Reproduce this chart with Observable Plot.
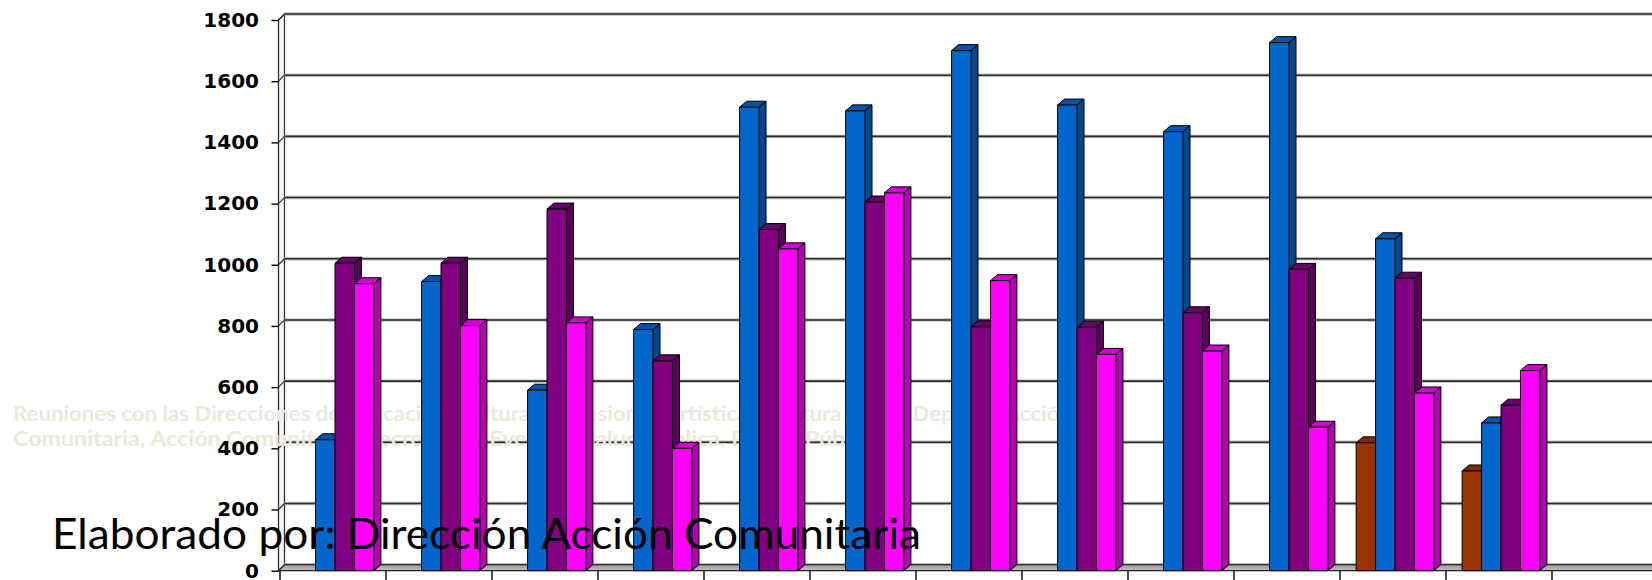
<!DOCTYPE html>
<html>
<head>
<meta charset="utf-8">
<script src="https://cdn.jsdelivr.net/npm/d3@7"></script>
<script src="https://cdn.jsdelivr.net/npm/@observablehq/plot@0.6"></script>
<style>
html, body { margin: 0; padding: 0; background: #ffffff; overflow: hidden; }
#chart svg { display: block; }
</style>
</head>
<body>
<div id="chart"></div>
<script>
// ---------------- data ----------------
const categories = ["1", "2", "3", "4", "5", "6", "7", "8", "9", "10", "11", "12", "13"];
const seriesNames = ["Serie 1", "Serie 2", "Serie 3", "Serie 4"];
const seriesColors = ["#993300", "#0066CC", "#800080", "#FF00FF"];
const serie1 = [null, null, null, null, null, null, null, null, null, null, 418, 326, null];
const serie2 = [428, 945, 590, 788, 1515, 1503, 1700, 1522, 1435, 1726, 1085, 483, null];
const serie3 = [1005, 1005, 1182, 686, 1115, 1205, 797, 796, 843, 985, 956, 541, null];
const serie4 = [938, 801, 810, 400, 1052, 1235, 948, 707, 718, 469, 581, 654, null];
const yTicks = [0, 200, 400, 600, 800, 1000, 1200, 1400, 1600, 1800];
const watermarkLines = [
  "Reuniones con las Direcciones de Educación, Cultura, Expresiones Artísticas, Cultura Física, Deporte, Acción",
  "Comunitaria, Acción Comunitaria, Recreación, Eventos, Salud Pública, Policía Pública"
];
const captionText = "Elaborado por: Dirección Acción Comunitaria";

// table built from the arrays
const allSeries = [serie1, serie2, serie3, serie4];
const table = [];
categories.forEach((c, i) => {
  allSeries.forEach((arr, s) => {
    if (arr[i] != null) table.push({cat: c, series: seriesNames[s], value: arr[i]});
  });
});

// ---------------- layout ----------------
const W = 1652, H = 580;
const LEFT = 278.5;
const STEP = 106.25;
const WALL = 6;          // depth of walls / gridline offset
const DX = 7, DY = 6;    // depth of the bars

// walls, floor, gridlines, category ticks
function chrome(index, scales, values, dimensions) {
  const g = d3.create("svg:g");
  const y0 = scales.y(0), yTop = scales.y(1800);
  const xL = dimensions.marginLeft, xR = dimensions.width + 30;
  const defs = g.append("defs");
  const lg = defs.append("linearGradient").attr("id", "floorGrad").attr("x1", 0).attr("y1", 0).attr("x2", 0).attr("y2", 1);
  lg.append("stop").attr("offset", "0%").attr("stop-color", "#8c8c8c");
  lg.append("stop").attr("offset", "100%").attr("stop-color", "#c8c8c8");
  // floor
  g.append("path")
    .attr("d", `M${xL},${y0}L${xL + WALL},${y0 - WALL}L${xR},${y0 - WALL}L${xR},${y0}Z`)
    .attr("fill", "url(#floorGrad)").attr("stroke", "none");
  // side wall
  g.append("path")
    .attr("d", `M${xL},${y0}L${xL},${yTop}L${xL + WALL},${yTop - WALL}L${xL + WALL},${y0 - WALL}Z`)
    .attr("fill", "#f4f4f4").attr("stroke", "#333").attr("stroke-width", 1.3);
  // gridlines on back wall + side wall diagonals
  for (const i of index) {
    const y = values.y[i];
    g.append("line").attr("x1", xL + WALL).attr("x2", xR).attr("y1", y - WALL).attr("y2", y - WALL)
      .attr("stroke", "#bdbdbd").attr("stroke-width", 3.4);
    g.append("line").attr("x1", xL + WALL).attr("x2", xR).attr("y1", y - WALL).attr("y2", y - WALL)
      .attr("stroke", "#2e2e2e").attr("stroke-width", 1.6);
    g.append("line").attr("x1", xL).attr("x2", xL + WALL).attr("y1", y).attr("y2", y - WALL)
      .attr("stroke", "#333").attr("stroke-width", 1.2);
  }
  // front floor edge
  g.append("line").attr("x1", xL).attr("x2", xR).attr("y1", y0).attr("y2", y0)
    .attr("stroke", "#222").attr("stroke-width", 1.3);
  // category boundary ticks
  const bw = scales.x.bandwidth();
  categories.forEach((c, k) => {
    const xs = [scales.x(c)];
    if (k === categories.length - 1) xs.push(scales.x(c) + bw);
    for (const x of xs) {
      g.append("line").attr("x1", x).attr("x2", x).attr("y1", y0).attr("y2", y0 + 11)
        .attr("stroke", "#000").attr("stroke-width", 1.4);
    }
  });
  return g.node();
}

// 3D columns
function bars3d(index, scales, values) {
  const g = d3.create("svg:g").attr("class", "bars3d");
  const bw = scales.x.bandwidth();
  const sub = d3.scaleBand().domain(seriesNames).range([bw * 0.152, bw * 0.152 + bw * 0.734]);
  const w = sub.bandwidth();
  for (const i of index) {
    const x0 = values.x[i] + sub(table[i].series);
    const yt = Math.min(values.y1[i], values.y2[i]);
    const yb = Math.max(values.y1[i], values.y2[i]);
    const c = d3.color(values.fill[i]);
    const top = c.darker(0.55).formatHex();
    const side = c.darker(1.0).formatHex();
    const b = g.append("g").attr("stroke", "#000").attr("stroke-width", 1).attr("stroke-linejoin", "round");
    b.append("path")
      .attr("d", `M${x0 + w},${yt}L${x0 + w + DX},${yt - DY}L${x0 + w + DX},${yb - DY}L${x0 + w},${yb}Z`)
      .attr("fill", side);
    b.append("path")
      .attr("d", `M${x0},${yt}L${x0 + DX},${yt - DY}L${x0 + w + DX},${yt - DY}L${x0 + w},${yt}Z`)
      .attr("fill", top);
    b.append("rect").attr("x", x0).attr("y", yt).attr("width", w).attr("height", yb - yt)
      .attr("fill", c.formatHex());
  }
  return g.node();
}

const plot = Plot.plot({
  width: W,
  height: H,
  marginLeft: LEFT,
  marginRight: 0,
  marginTop: 20,
  marginBottom: 9,
  x: {type: "band", domain: categories, range: [LEFT, LEFT + STEP * categories.length], padding: 0, axis: null},
  y: {domain: [0, 1800], range: [570.7, 20], axis: null},
  color: {domain: seriesNames, range: seriesColors},
  style: {background: "transparent"},
  marks: [
    Plot.ruleY(yTicks, {y: d => d, render: chrome}),
    Plot.barY(table, {x: "cat", y1: () => 0, y2: "value", fill: "series", render: bars3d}),
    Plot.axisY({
      ticks: yTicks,
      label: null,
      tickSize: 7,
      tickPadding: 13,
      tickFormat: d => String(d),
      fontSize: 20,
      fontWeight: "bold",
      fontFamily: "DejaVu Sans",
      fill: "#000",
      stroke: "#000",
      strokeWidth: 1.4
    })
  ]
});

document.getElementById("chart").appendChild(plot);

// annotations
const svg = d3.select(plot);
const barsNode = plot.querySelector("g.bars3d");
const wm = svg.insert("g", function () { return barsNode.parentNode === plot ? barsNode : barsNode.parentNode; })
  .attr("font-family", "Lato, 'Open Sans', sans-serif")
  .attr("font-weight", "bold")
  .attr("font-size", 20)
  .attr("text-anchor", "start")
  .attr("fill", "#EBE8DC");
const wmLengths = [1059, 867];
watermarkLines.forEach((t, k) => {
  wm.append("text")
    .attr("x", 13).attr("y", 421 + k * 25)
    .attr("text-anchor", "start")
    .attr("textLength", wmLengths[k]).attr("lengthAdjust", "spacingAndGlyphs")
    .text(t);
});

svg.append("text")
  .attr("x", 52).attr("y", 549)
  .attr("text-anchor", "start")
  .attr("font-family", "Lato, 'Open Sans', sans-serif")
  .attr("font-size", 42)
  .attr("fill", "#000")
  .attr("textLength", 869).attr("lengthAdjust", "spacingAndGlyphs")
  .text(captionText);
</script>
</body>
</html>
